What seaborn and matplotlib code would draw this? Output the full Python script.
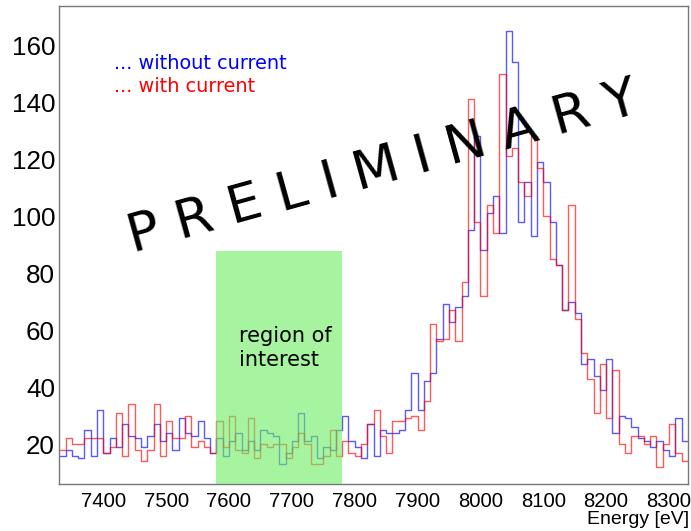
import numpy as np
import pandas as pd
import matplotlib
matplotlib.use("Agg")
import matplotlib.pyplot as plt
from matplotlib.patches import Rectangle
from matplotlib.ticker import MultipleLocator
import seaborn as sns

# binning of the spectrum (10 eV bins)
e_start = 7330
e_stop = 8330
bin_width = 10

# counts per bin
without_current = [16, 18, 16, 15, 25, 16, 32, 17, 22, 19,
                   27, 23, 22, 19, 23, 27, 21, 24, 18, 29,
                   24, 23, 28, 22, 17, 22, 16, 21, 24, 18,
                   21, 18, 25, 24, 23, 13, 17, 21, 31, 21,
                   23, 15, 19, 18, 25, 30, 21, 19, 15, 27,
                   16, 25, 24, 24, 25, 32, 45, 32, 42, 45,
                   57, 69, 63, 68, 72, 95, 128, 88, 101, 107,
                   94, 165, 154, 98, 112, 93, 119, 112, 98, 83,
                   67, 70, 66, 48, 50, 44, 39, 50, 24, 30,
                   29, 26, 22, 21, 19, 21, 18, 16, 29, 21]

with_current = [18, 22, 20, 20, 22, 22, 22, 17, 19, 31,
                16, 34, 18, 14, 18, 34, 16, 28, 22, 22,
                30, 19, 21, 19, 17, 28, 19, 30, 18, 17,
                29, 15, 20, 19, 20, 20, 15, 19, 24, 20,
                13, 13, 16, 25, 16, 21, 17, 16, 20, 27,
                32, 23, 17, 28, 28, 29, 30, 25, 35, 62,
                56, 57, 67, 56, 77, 141, 98, 72, 104, 94,
                150, 121, 124, 112, 107, 128, 117, 100, 85, 83,
                67, 104, 64, 52, 43, 31, 48, 29, 46, 20,
                17, 23, 23, 20, 23, 12, 20, 27, 17, 14]

# region of interest box
roi_low = 7580
roi_high = 7780
roi_top = 87.7

centers = np.arange(e_start, e_stop, bin_width) + bin_width / 2

df = pd.DataFrame({
    "energy": np.concatenate([centers, centers]),
    "counts": without_current + with_current,
    "series": ["without current"] * len(centers) + ["with current"] * len(centers),
})

sns.set_style("white")
plt.rcParams["font.family"] = ["Liberation Sans", "DejaVu Sans"]
plt.rcParams["text.color"] = "black"

fig = plt.figure(figsize=(6.91, 5.31), dpi=100)
ax = fig.add_axes([0.0858, 0.0885, 0.9096, 0.9002])

for name, col in [("without current", "#0000ff"), ("with current", "#ff0000")]:
    sns.histplot(data=df[df.series == name], x="energy", weights="counts",
                 binwidth=bin_width, binrange=(e_start, e_stop),
                 element="step", fill=False, color=col,
                 alpha=0.65, linewidth=1.0, ax=ax)

ymin, ymax = 6, 173.7
ax.set_xlim(e_start, e_stop)
ax.set_ylim(ymin, ymax)

# green box drawn over the histograms, like in the original
ax.add_patch(Rectangle((roi_low, ymin), roi_high - roi_low, roi_top - ymin,
                       facecolor="#6bee61", edgecolor="none", alpha=0.6, zorder=5))
ax.text(285, 531 - 342, "region of", transform=None, ha="center", va="baseline",
        fontsize=15, family="DejaVu Sans", color="black", zorder=6)
ax.text(279, 531 - 366, "interest", transform=None, ha="center", va="baseline",
        fontsize=15, family="DejaVu Sans", color="black", zorder=6)

ax.set_xticks(np.arange(7400, 8301, 100))
ax.set_yticks(np.arange(20, 161, 20))
ax.xaxis.set_minor_locator(MultipleLocator(20))
ax.yaxis.set_minor_locator(MultipleLocator(5))

ax.tick_params(axis="x", which="major", direction="in", length=10, width=1,
               color="#555555", labelcolor="black", labelsize=14.6, pad=5.5,
               top=False)
ax.tick_params(axis="x", which="minor", direction="in", length=5, width=1,
               color="#555555", top=False)
ax.tick_params(axis="y", which="major", direction="in", length=13, width=1,
               color="#555555", labelcolor="black", labelsize=18.7, pad=3,
               right=False)
ax.tick_params(axis="y", which="minor", direction="in", length=6, width=1,
               color="#555555", right=False)
for s in ax.spines.values():
    s.set_color("#777777")
    s.set_linewidth(1)
ax.set_xlabel("")
ax.set_ylabel("")

fig.text(689 / 691, 1 - 524 / 531, "Energy [eV]", ha="right", va="baseline",
         fontsize=14, color="black")

fig.text(114 / 691, 1 - 69 / 531, "... without current", color="#0000ff",
         fontsize=13.9, family="DejaVu Sans", va="baseline")
fig.text(114 / 691, 1 - 92 / 531, "... with current", color="#ff0000",
         fontsize=13.9, family="DejaVu Sans", va="baseline")

fig.text(383 / 691, 1 - 168 / 531, "P R E L I M I N A R Y", rotation=15.5,
         ha="center", va="center", fontsize=38.5, family="DejaVu Sans",
         color="black", zorder=10)

fig.savefig("out.png", dpi=100)
